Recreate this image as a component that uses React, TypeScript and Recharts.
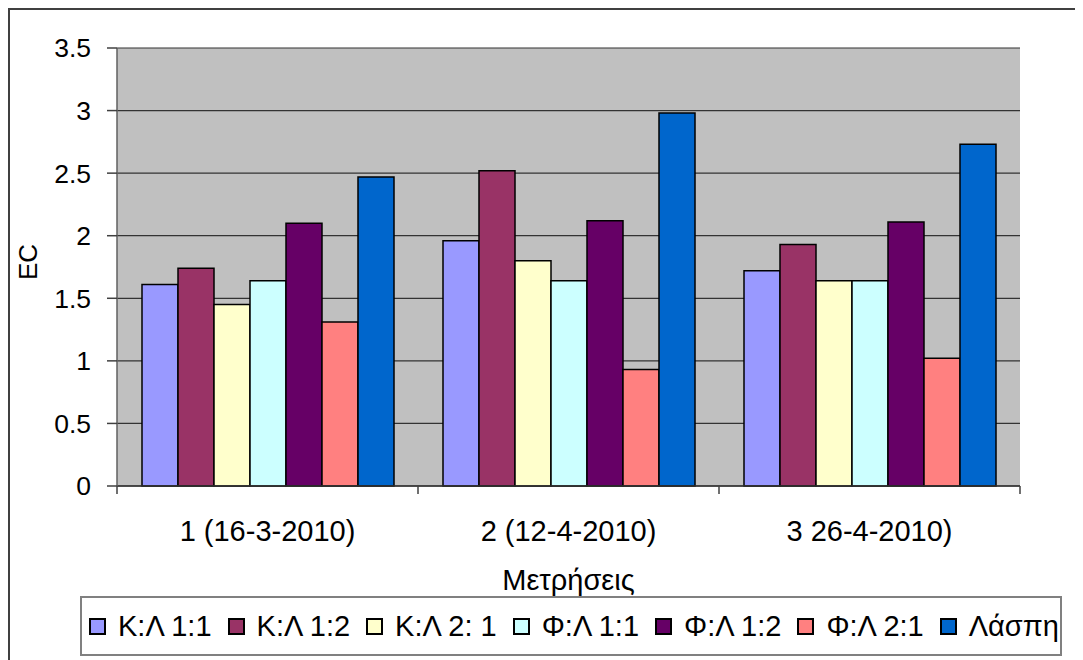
import React from 'react';
import { BarChart, Bar, XAxis, YAxis, CartesianGrid, Legend } from 'recharts';

// measurement dates
const categories = ['1 (16-3-2010)', '2 (12-4-2010)', '3 26-4-2010)'];

// EC per mixture, one value per measurement
const kl11 = [1.61, 1.96, 1.72];
const kl12 = [1.74, 2.52, 1.93];
const kl21 = [1.45, 1.8, 1.64];
const fl11 = [1.64, 1.64, 1.64];
const fl12 = [2.1, 2.12, 2.11];
const fl21 = [1.31, 0.93, 1.02];
const laspi = [2.47, 2.98, 2.73];

const yTicks = [0, 0.5, 1, 1.5, 2, 2.5, 3, 3.5];

const series = [
  { key: 'kl11', name: 'Κ:Λ 1:1', color: '#9999FF', values: kl11 },
  { key: 'kl12', name: 'Κ:Λ 1:2', color: '#993366', values: kl12 },
  { key: 'kl21', name: 'Κ:Λ 2: 1', color: '#FFFFCC', values: kl21 },
  { key: 'fl11', name: 'Φ:Λ 1:1', color: '#CCFFFF', values: fl11 },
  { key: 'fl12', name: 'Φ:Λ 1:2', color: '#660066', values: fl12 },
  { key: 'fl21', name: 'Φ:Λ 2:1', color: '#FF8080', values: fl21 },
  { key: 'laspi', name: 'Λάσπη', color: '#0066CC', values: laspi },
];

const data = categories.map((cat, i) => {
  const row: Record<string, string | number> = { cat };
  series.forEach((s) => {
    row[s.key] = s.values[i];
  });
  return row;
});

const FONT = '"Liberation Sans", Arial, sans-serif';

// category label plus Excel-style tick marks on the band edges
const CategoryTick = (props: any) => {
  const { x, y, payload, index } = props;
  const half = payload && payload.offset ? payload.offset : 903 / 6;
  const last = index === categories.length - 1;
  return (
    <g>
      <line x1={x - half} x2={x - half} y1={y} y2={y + 8} stroke="#404040" strokeWidth={1.5} />
      {last && <line x1={x + half} x2={x + half} y1={y} y2={y + 8} stroke="#404040" strokeWidth={1.5} />}
      <text
        x={x}
        y={y + 45}
        textAnchor="middle"
        dominantBaseline="central"
        fontFamily={FONT}
        fontSize={29}
        fill="#000"
      >
        {payload.value}
      </text>
    </g>
  );
};

const LegendBox = () => (
  <div
    style={{
      boxSizing: 'border-box',
      width: '100%',
      height: '100%',
      border: '2px solid #808080',
      background: '#fff',
      display: 'flex',
      alignItems: 'center',
      gap: 16,
      padding: '0 0 0 7px',
      fontFamily: FONT,
      fontSize: 29,
      color: '#000',
    }}
  >
    {series.map((s) => (
      <div key={s.key} style={{ display: 'flex', alignItems: 'center', whiteSpace: 'pre' }}>
        <span
          style={{
            display: 'inline-block',
            boxSizing: 'border-box',
            width: 17,
            height: 17,
            background: s.color,
            border: '2px solid #000',
            marginRight: 12,
          }}
        />
        <span>{s.name}</span>
      </div>
    ))}
  </div>
);

export default function App() {
  return (
    <div
      style={{
        position: 'relative',
        width: 1090,
        height: 670,
        borderTop: '2px solid #404040',
        borderLeft: '2px solid #404040',
        background: '#fff',
        overflow: 'hidden',
      }}
    >
      <BarChart
        width={1073}
        height={650}
        data={data}
        margin={{ top: 38, right: 63, left: 0, bottom: 0 }}
        barCategoryGap={25}
        barGap={0}
      >
        <CartesianGrid vertical={false} stroke="#333" strokeWidth={1.2} fill="#C0C0C0" fillOpacity={1} />
        <XAxis
          dataKey="cat"
          height={174}
          tickLine={false}
          tickSize={0}
          tickMargin={0}
          axisLine={{ stroke: '#333', strokeWidth: 1.5 }}
          tick={<CategoryTick />}
          interval={0}
          label={({ viewBox }: any) => (
            <text
              x={viewBox.x + viewBox.width / 2}
              y={570}
              textAnchor="middle"
              dominantBaseline="central"
              fontFamily={FONT}
              fontSize={29}
              fill="#000"
            >
              Μετρήσεις
            </text>
          )}
        />
        <XAxis xAxisId="frame" dataKey="cat" orientation="top" height={0} tick={false} tickLine={false} axisLine={{ stroke: '#808080', strokeWidth: 2 }} />
        <YAxis
          width={107}
          domain={[0, 3.5]}
          ticks={yTicks}
          interval={0}
          tickSize={10}
          tickMargin={16}
          tickLine={{ stroke: '#404040', strokeWidth: 1.5 }}
          axisLine={{ stroke: '#606060', strokeWidth: 1.5 }}
          tick={{ fontFamily: FONT, fontSize: 26.5, fill: '#000' }}
          label={({ viewBox }: any) => {
            const cy = viewBox.y + viewBox.height / 2 - 5;
            return (
              <text
                x={18}
                y={cy}
                transform={`rotate(-90 18 ${cy})`}
                textAnchor="middle"
                dominantBaseline="central"
                fontFamily={FONT}
                fontSize={26}
                fill="#000"
              >
                EC
              </text>
            );
          }}
        />
        <YAxis yAxisId="frame" orientation="right" width={0} domain={[0, 3.5]} tick={false} tickLine={false} axisLine={{ stroke: '#808080', strokeWidth: 2 }} />
        <Legend
          layout="horizontal"
          verticalAlign="middle"
          align="center"
          wrapperStyle={{ left: 70, top: 586, width: 982, height: 60 }}
          content={() => <LegendBox />}
        />
        {series.map((s) => (
          <Bar
            key={s.key}
            dataKey={s.key}
            name={s.name}
            fill={s.color}
            stroke="#000"
            strokeWidth={1.5}
            isAnimationActive={false}
          />
        ))}
      </BarChart>
    </div>
  );
}
